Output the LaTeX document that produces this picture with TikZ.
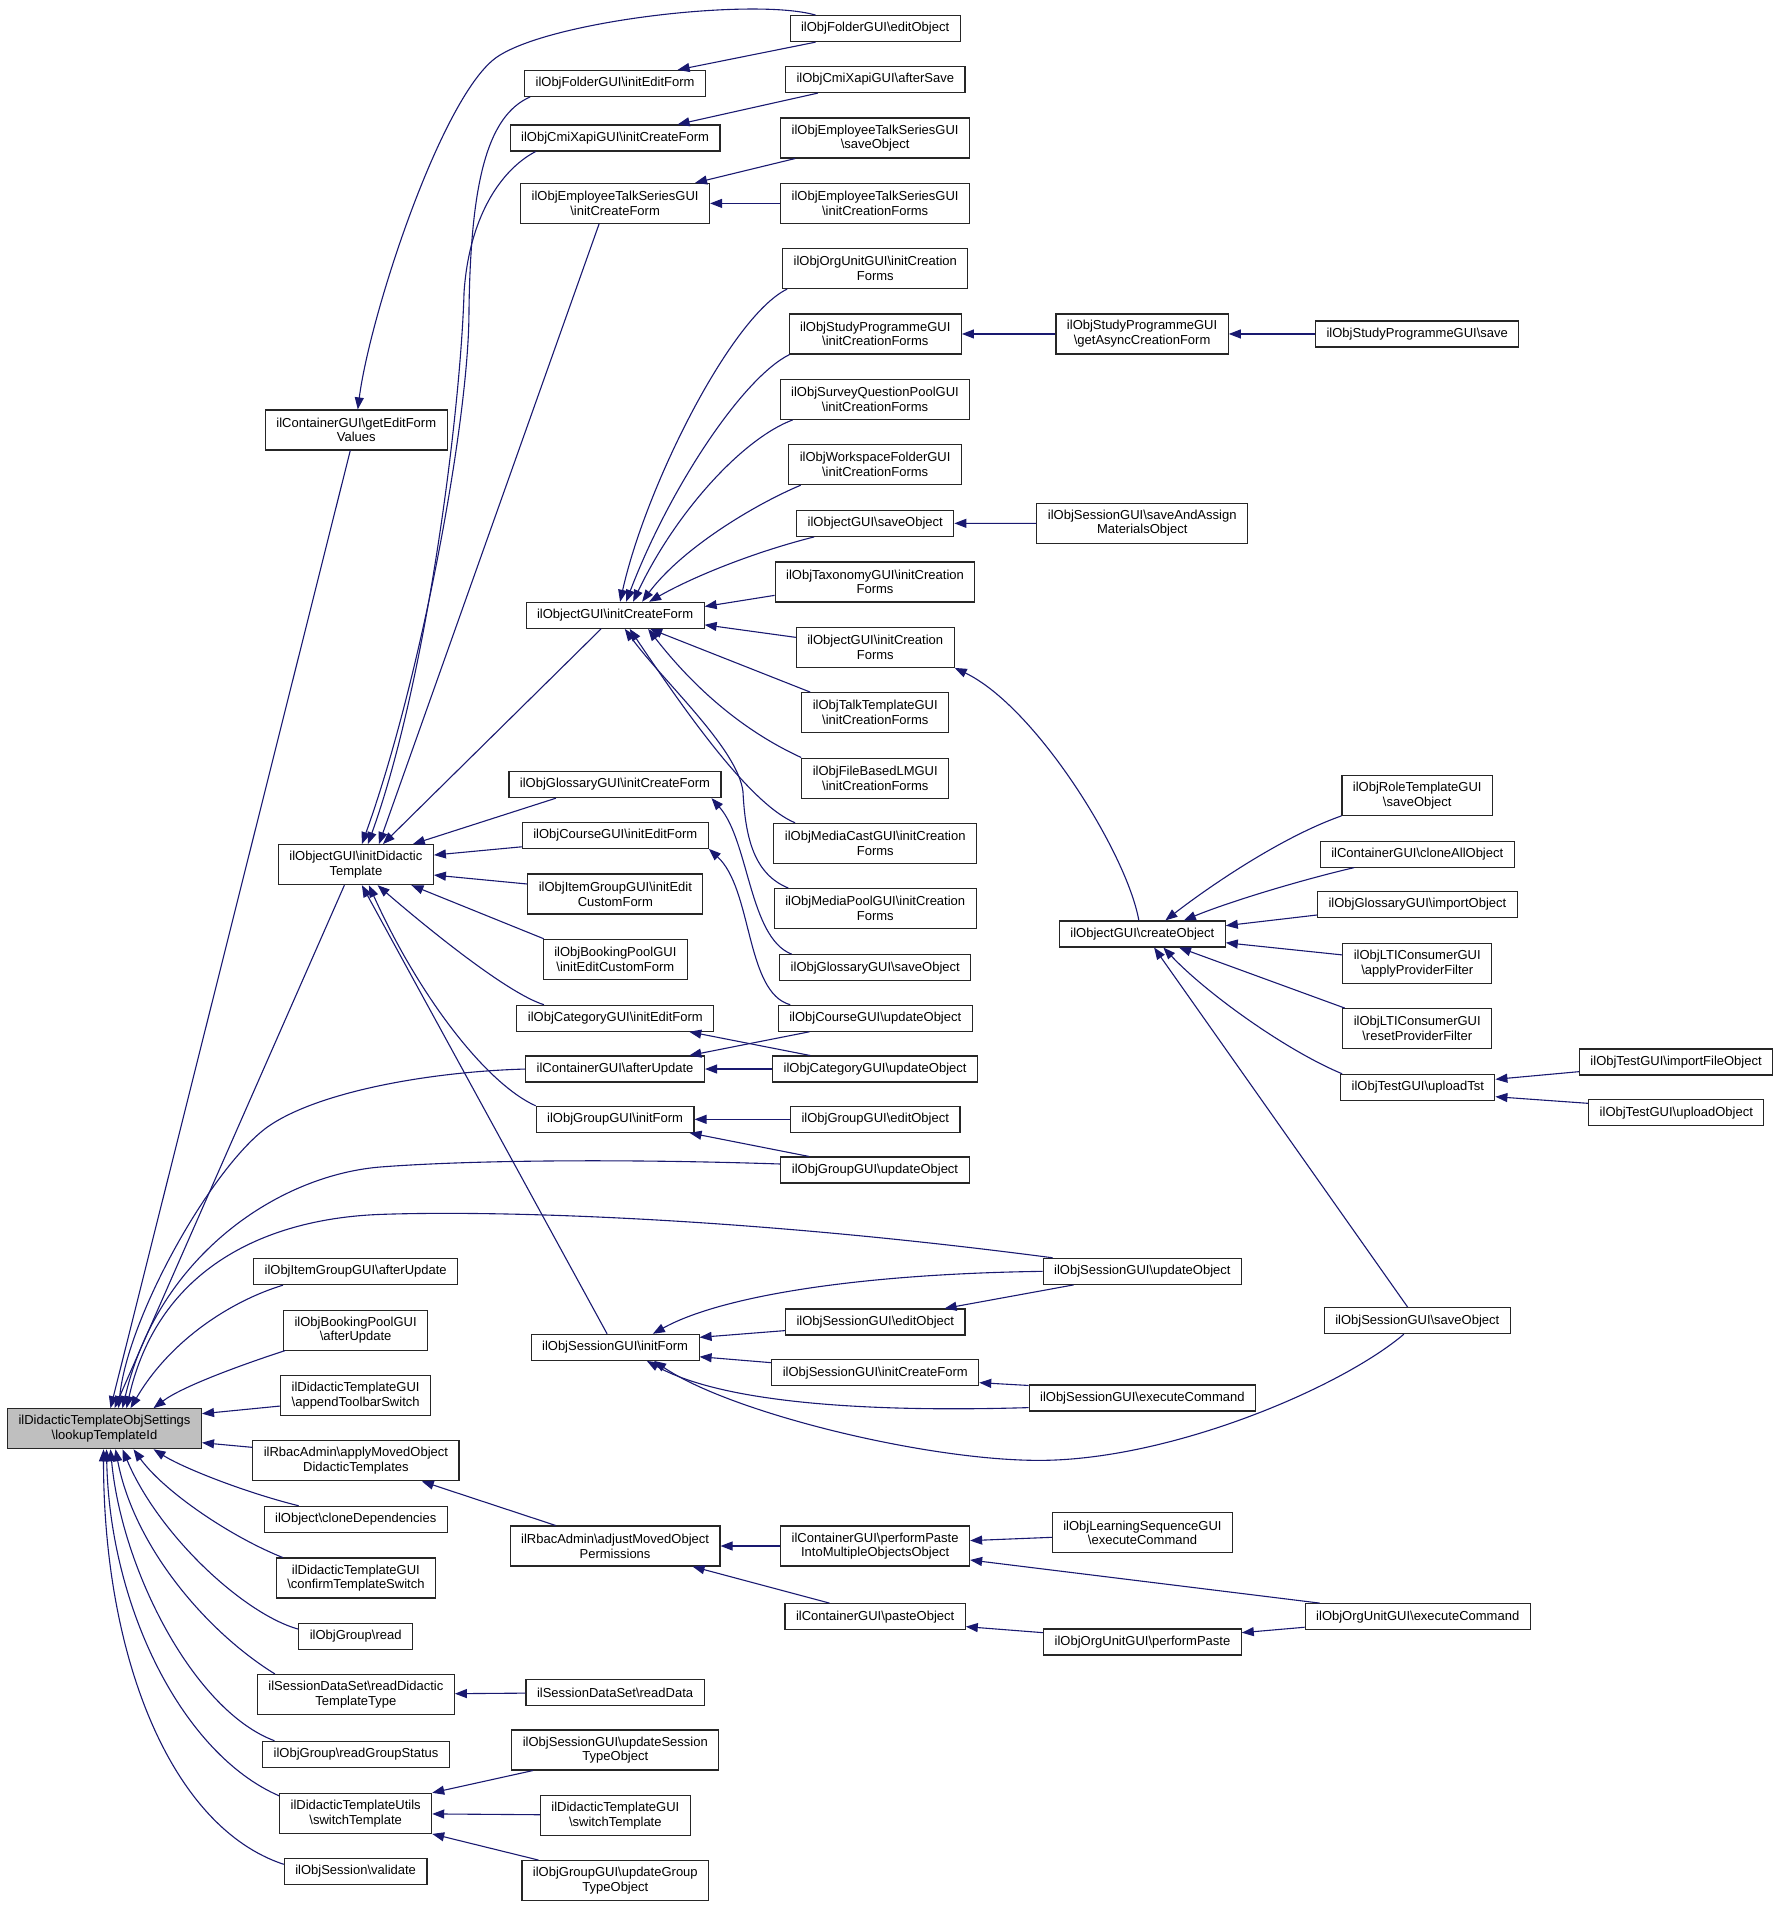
\documentclass[tikz,border=0pt]{standalone}
\usepackage{fontspec}
\setmainfont{Liberation Sans}
\usepackage{tikz}
\usetikzlibrary{arrows.meta}
\definecolor{navyedge}{HTML}{191970}
\definecolor{rootgray}{HTML}{BFBFBF}
\newcommand{\callcolor}{navyedge}
\newcommand{\bsl}{\textbackslash}
\tikzset{
  func/.style={draw=black!85, line width=1.1pt, fill=white, align=center, inner xsep=11pt, inner ysep=0pt, minimum height=26pt, font=\fontsize{13}{14.7}\selectfont},
  functwo/.style={func, minimum height=40pt},
  callarrow/.style={draw=\callcolor, line width=1.1pt, -{Triangle[length=12pt,width=9pt]}}
}

\begin{document}
\begin{tikzpicture}[x=1.218pt, y=-1.218pt]
\useasboundingbox (0,0) rectangle (1463.9,1565.7);
%root
\node[functwo, fill=rootgray] (root) at (85.8,1173) {ilDidacticTemplateObjSettings\\\bsl lookupTemplateId};
%first column
\node[functwo] (editFormValues) at (292.5,353) {ilContainerGUI\bsl getEditForm\\Values};
\node[functwo] (initDidactic) at (292.2,709.9) {ilObjectGUI\bsl initDidactic\\Template};
\node[func] (itemGroupAfter) at (292,1044) {ilObjItemGroupGUI\bsl afterUpdate};
\node[functwo] (bookingAfter) at (292,1092) {ilObjBookingPoolGUI\\\bsl afterUpdate};
\node[functwo] (appendToolbar) at (292,1145.6) {ilDidacticTemplateGUI\\\bsl appendToolbarSwitch};
\node[functwo] (applyMoved) at (292.2,1199.3) {ilRbacAdmin\bsl applyMovedObject\\DidacticTemplates};
\node[func] (cloneDeps) at (292.1,1247.4) {ilObject\bsl cloneDependencies};
\node[functwo] (confirmSwitch) at (292.2,1295.6) {ilDidacticTemplateGUI\\\bsl confirmTemplateSwitch};
\node[func] (groupRead) at (292,1343.7) {ilObjGroup\bsl read};
\node[functwo] (readDidactic) at (292.2,1391.2) {ilSessionDataSet\bsl readDidactic\\TemplateType};
\node[func] (readGroupStatus) at (292.3,1440.3) {ilObjGroup\bsl readGroupStatus};
\node[functwo] (utilsSwitch) at (292,1488.8) {ilDidacticTemplateUtils\\\bsl switchTemplate};
\node[func] (sessionValidate) at (292,1536.4) {ilObjSession\bsl validate};
%second column
\node[func] (folderInitEdit) at (505,68.5) {ilObjFolderGUI\bsl initEditForm};
\node[func] (cmiInitCreate) at (505,113.3) {ilObjCmiXapiGUI\bsl initCreateForm};
\node[functwo] (talkInitCreate) at (505,167) {ilObjEmployeeTalkSeriesGUI\\\bsl initCreateForm};
\node[func] (objInitCreate) at (505,505.2) {ilObjectGUI\bsl initCreateForm};
\node[func] (glossaryInitCreate) at (504.9,644.2) {ilObjGlossaryGUI\bsl initCreateForm};
\node[func] (courseInitEdit) at (505.2,685.8) {ilObjCourseGUI\bsl initEditForm};
\node[functwo] (itemGroupInitEdit) at (505.2,734) {ilObjItemGroupGUI\bsl initEdit\\CustomForm};
\node[functwo] (bookingInitEdit) at (505.2,787.6) {ilObjBookingPoolGUI\\\bsl initEditCustomForm};
\node[func] (categoryInitEdit) at (505.2,836) {ilObjCategoryGUI\bsl initEditForm};
\node[func] (containerAfterUpdate) at (505,877.7) {ilContainerGUI\bsl afterUpdate};
\node[func] (groupInitForm) at (505,919) {ilObjGroupGUI\bsl initForm};
\node[func] (sessionInitForm) at (505,1106.2) {ilObjSessionGUI\bsl initForm};
\node[functwo] (adjustPerms) at (505,1269.3) {ilRbacAdmin\bsl adjustMovedObject\\Permissions};
\node[func] (readData) at (505,1389.5) {ilSessionDataSet\bsl readData};
\node[functwo] (updateSessionType) at (505.2,1436.8) {ilObjSessionGUI\bsl updateSession\\TypeObject};
\node[functwo] (guiSwitch) at (505.2,1490.4) {ilDidacticTemplateGUI\\\bsl switchTemplate};
\node[functwo] (updateGroupType) at (505.2,1544) {ilObjGroupGUI\bsl updateGroup\\TypeObject};
%third column
\node[func] (folderEdit) at (718.5,23.5) {ilObjFolderGUI\bsl editObject};
\node[func] (cmiAfterSave) at (718.6,65.3) {ilObjCmiXapiGUI\bsl afterSave};
\node[functwo] (talkSave) at (718.5,113.3) {ilObjEmployeeTalkSeriesGUI\\\bsl saveObject};
\node[functwo] (talkCreationForms) at (718.5,167) {ilObjEmployeeTalkSeriesGUI\\\bsl initCreationForms};
\node[functwo] (orgUnitForms) at (718.6,220.5) {ilObjOrgUnitGUI\bsl initCreation\\Forms};
\node[functwo] (studyForms) at (718.6,274.2) {ilObjStudyProgrammeGUI\\\bsl initCreationForms};
\node[functwo] (surveyForms) at (718.4,327.9) {ilObjSurveyQuestionPoolGUI\\\bsl initCreationForms};
\node[functwo] (workspaceForms) at (718.5,381.5) {ilObjWorkspaceFolderGUI\\\bsl initCreationForms};
\node[func] (objSave) at (718.6,429.7) {ilObjectGUI\bsl saveObject};
\node[functwo] (taxonomyForms) at (718.4,477.8) {ilObjTaxonomyGUI\bsl initCreation\\Forms};
\node[functwo] (objCreationForms) at (718.6,531.5) {ilObjectGUI\bsl initCreation\\Forms};
\node[functwo] (talkTemplateForms) at (718.6,585.1) {ilObjTalkTemplateGUI\\\bsl initCreationForms};
\node[functwo] (fileLMForms) at (718.6,638.8) {ilObjFileBasedLMGUI\\\bsl initCreationForms};
\node[functwo] (mediaCastForms) at (718.6,692.4) {ilObjMediaCastGUI\bsl initCreation\\Forms};
\node[functwo] (mediaPoolForms) at (718.6,746) {ilObjMediaPoolGUI\bsl initCreation\\Forms};
\node[func] (glossarySave) at (718.6,794.5) {ilObjGlossaryGUI\bsl saveObject};
\node[func] (courseUpdate) at (718.6,836) {ilObjCourseGUI\bsl updateObject};
\node[func] (categoryUpdate) at (718.5,877.7) {ilObjCategoryGUI\bsl updateObject};
\node[func] (groupEdit) at (718.6,919) {ilObjGroupGUI\bsl editObject};
\node[func] (groupUpdate) at (718.4,960.6) {ilObjGroupGUI\bsl updateObject};
\node[func] (sessionEdit) at (718.6,1085.4) {ilObjSessionGUI\bsl editObject};
\node[func] (sessionInitCreate) at (718.6,1127) {ilObjSessionGUI\bsl initCreateForm};
\node[functwo] (performPasteMulti) at (718.5,1269.3) {ilContainerGUI\bsl performPaste\\IntoMultipleObjectsObject};
\node[func] (pasteObject) at (718.5,1327.3) {ilContainerGUI\bsl pasteObject};
%fourth column
\node[functwo] (asyncForm) at (937.7,274.2) {ilObjStudyProgrammeGUI\\\bsl getAsyncCreationForm};
\node[functwo] (saveAssign) at (937.8,429.6) {ilObjSessionGUI\bsl saveAndAssign\\MaterialsObject};
\node[func] (createObject) at (937.9,766.8) {ilObjectGUI\bsl createObject};
\node[func] (sessionUpdate) at (937.9,1043.8) {ilObjSessionGUI\bsl updateObject};
\node[func] (sessionExec) at (937.9,1147.8) {ilObjSessionGUI\bsl executeCommand};
\node[functwo] (lsExec) at (938,1258.4) {ilObjLearningSequenceGUI\\\bsl executeCommand};
\node[func] (orgPerformPaste) at (938,1348.1) {ilObjOrgUnitGUI\bsl performPaste};
%fifth column
\node[func] (studySave) at (1163.6,274.2) {ilObjStudyProgrammeGUI\bsl save};
\node[functwo] (roleSave) at (1163.6,653) {ilObjRoleTemplateGUI\\\bsl saveObject};
\node[func] (cloneAll) at (1163.6,701.2) {ilContainerGUI\bsl cloneAllObject};
\node[func] (glossaryImport) at (1163.7,742.7) {ilObjGlossaryGUI\bsl importObject};
\node[functwo] (ltiApply) at (1163.6,790.9) {ilObjLTIConsumerGUI\\\bsl applyProviderFilter};
\node[functwo] (ltiReset) at (1163.6,844.5) {ilObjLTIConsumerGUI\\\bsl resetProviderFilter};
\node[func] (uploadTst) at (1164,892.7) {ilObjTestGUI\bsl uploadTst};
\node[func] (sessionSave) at (1163.6,1084.3) {ilObjSessionGUI\bsl saveObject};
\node[func] (orgExec) at (1164,1327.3) {ilObjOrgUnitGUI\bsl executeCommand};
%sixth column
\node[func] (importFile) at (1376.1,871.9) {ilObjTestGUI\bsl importFileObject};
\node[func] (uploadObject) at (1376.3,913.5) {ilObjTestGUI\bsl uploadObject};
%callers of lookupTemplateId
\draw[callarrow] ([xshift=-6pt]editFormValues.south) -- ([xshift=6pt]root.north);
\draw[callarrow] ([xshift=-11.5pt]initDidactic.south) -- ([xshift=10pt]root.north);
\draw[callarrow] (containerAfterUpdate.west) .. controls (350,880) and (260,897) .. (220,925) .. controls (175,957) and (105,1080) .. ([xshift=14pt]root.north);
\draw[callarrow] ([yshift=6pt]groupUpdate.west) .. controls (500,951) and (380,953) .. (314,958) .. controls (230,964) and (130,1030) .. ([xshift=18pt]root.north);
\draw[callarrow] ([xshift=10pt]sessionUpdate.north west) .. controls (600,998) and (400,994) .. (314,997) .. controls (220,1000) and (130,1040) .. ([xshift=22pt]root.north);
\draw[callarrow] ([xshift=30pt]itemGroupAfter.south west) .. controls (190,1068) and (140,1100) .. ([xshift=26pt]root.north);
\draw[callarrow] ([xshift=2pt]bookingAfter.south west) .. controls (200,1120) and (150,1138) .. ([xshift=49pt]root.north);
\draw[callarrow] ([yshift=-10.7pt]appendToolbar.west) -- ([yshift=15pt]root.east);
\draw[callarrow] ([yshift=13.4pt]applyMoved.west) -- ([yshift=-14pt]root.east);
\draw[callarrow] ([xshift=35pt]cloneDeps.north west) .. controls (200,1225) and (150,1205) .. ([xshift=49pt]root.south);
\draw[callarrow] ([xshift=7pt]confirmSwitch.north west) .. controls (190,1262) and (135,1225) .. ([xshift=29pt]root.south);
\draw[callarrow] ([yshift=7.5pt]groupRead.west) .. controls (200,1325) and (130,1260) .. ([xshift=18pt]root.south);
\draw[callarrow] ([xshift=18pt]readDidactic.north west) .. controls (170,1340) and (110,1270) .. ([xshift=11pt]root.south);
\draw[callarrow] ([xshift=12.4pt]readGroupStatus.north west) .. controls (160,1405) and (100,1290) .. ([xshift=6pt]root.south);
\draw[callarrow] ([yshift=-3pt]utilsSwitch.north west) .. controls (150,1440) and (90,1320) .. ([xshift=2pt]root.south);
\draw[callarrow] ([yshift=7pt]sessionValidate.west) .. controls (140,1500) and (85,1360) .. ([xshift=-1pt]root.south);
%getEditFormValues
\draw[callarrow] ([xshift=26pt]folderEdit.north west) .. controls (620,-2) and (453.5,16.5) .. (408.5,46.5) .. controls (363.5,76.5) and (304,257) .. ([xshift=1.5pt]editFormValues.north);
%initDidacticTemplate
\draw[callarrow] ([xshift=6pt]folderInitEdit.south west) .. controls (400,95) and (386,150) .. (385,260) .. controls (384,350) and (345,560) .. ([xshift=6pt]initDidactic.north);
\draw[callarrow] ([xshift=26pt]cmiInitCreate.south west) .. controls (410,140) and (385,180) .. (381,240) .. controls (378,340) and (350,560) .. ([xshift=12pt]initDidactic.north);
\draw[callarrow] ([xshift=-16pt]talkInitCreate.south) -- ([xshift=23pt]initDidactic.north);
\draw[callarrow] ([xshift=-14pt]objInitCreate.south) -- ([xshift=27pt]initDidactic.north);
\draw[callarrow] ([xshift=47.5pt]glossaryInitCreate.south west) -- ([xshift=57pt]initDidactic.north);
\draw[callarrow] ([yshift=-11.5pt]courseInitEdit.west) -- ([yshift=9.6pt]initDidactic.east);
\draw[callarrow] ([yshift=10pt]itemGroupInitEdit.west) -- ([yshift=-10.4pt]initDidactic.east);
\draw[callarrow] ([xshift=1pt]bookingInitEdit.north west) -- ([xshift=55.5pt]initDidactic.south);
\draw[callarrow] ([xshift=27.5pt]categoryInitEdit.north west) .. controls (415,815) and (345,757) .. ([xshift=21.7pt]initDidactic.south);
\draw[callarrow] (groupInitForm.north west) .. controls (400,890) and (345,820) .. ([xshift=13pt]initDidactic.south);
\draw[callarrow] ([xshift=-8pt]sessionInitForm.north) -- ([xshift=6pt]initDidactic.south);
%ilObjectGUI initCreateForm
\draw[callarrow] ([xshift=5pt]orgUnitForms.south west) .. controls (600,260) and (530,400) .. ([xshift=5pt]objInitCreate.north);
\draw[callarrow] ([xshift=1pt]studyForms.south west) .. controls (610,310) and (550,400) .. ([xshift=11pt]objInitCreate.north);
\draw[callarrow] ([xshift=13pt]surveyForms.south west) .. controls (610,360) and (555,420) .. ([xshift=18pt]objInitCreate.north);
\draw[callarrow] ([xshift=12.5pt]workspaceForms.south west) .. controls (620,414) and (560,450) .. ([xshift=27pt]objInitCreate.north);
\draw[callarrow] ([xshift=18pt]objSave.south west) .. controls (620,453) and (570,473) .. ([xshift=34pt]objInitCreate.north);
\draw[callarrow] ([yshift=-13.4pt]taxonomyForms.west) -- ([yshift=8.8pt]objInitCreate.east);
\draw[callarrow] ([yshift=10pt]objCreationForms.west) -- ([yshift=-9.5pt]objInitCreate.east);
\draw[callarrow] ([xshift=9pt]talkTemplateForms.north west) -- ([xshift=35pt]objInitCreate.south);
\draw[callarrow] (fileLMForms.north west) .. controls (610,600) and (570,565) .. ([xshift=33pt]objInitCreate.south);
\draw[callarrow] ([xshift=21.7pt]mediaCastForms.north west) .. controls (615,660) and (560,580) .. ([xshift=14.6pt]objInitCreate.south);
\draw[callarrow] ([xshift=14.6pt]mediaPoolForms.north west) .. controls (620,718) and (612,690) .. (610,650) .. controls (606,615) and (545,560) .. ([xshift=9.7pt]objInitCreate.south);
%top right
\draw[callarrow] ([xshift=26pt]folderEdit.south west) -- ([xshift=62.5pt]folderInitEdit.north);
\draw[callarrow] ([xshift=33pt]cmiAfterSave.south west) -- ([xshift=62.5pt]cmiInitCreate.north);
\draw[callarrow] ([xshift=15pt]talkSave.south west) -- ([xshift=-15pt]talkInitCreate.north east);
\draw[callarrow] (talkCreationForms) -- (talkInitCreate);
\draw[callarrow] (asyncForm) -- (studyForms);
\draw[callarrow] (studySave) -- (asyncForm);
\draw[callarrow] (saveAssign) -- (objSave);
%createObject
\draw[callarrow] ([xshift=-3.5pt]createObject.north) .. controls (925,700) and (850,580) .. (objCreationForms.south east);
\draw[callarrow] (roleSave.south west) .. controls (1050,688) and (990,730) .. ([xshift=23pt]createObject.north);
\draw[callarrow] ([xshift=34.5pt]cloneAll.south west) .. controls (1070,722) and (1010,740) .. ([xshift=41.5pt]createObject.north);
\draw[callarrow] ([yshift=-10.4pt]glossaryImport.west) -- ([yshift=8.3pt]createObject.east);
\draw[callarrow] ([yshift=8.4pt]ltiApply.west) -- ([yshift=-8.8pt]createObject.east);
\draw[callarrow] ([xshift=2.4pt]ltiReset.north west) -- ([xshift=36.7pt]createObject.south);
\draw[callarrow] ([xshift=2pt]uploadTst.north west) .. controls (1055,862) and (990,815) .. ([xshift=21pt]createObject.south);
\draw[callarrow] ([xshift=-9.6pt]sessionSave.north) -- ([xshift=11.7pt]createObject.south);
\draw[callarrow] ([yshift=-9.7pt]importFile.west) -- ([yshift=8pt]uploadTst.east);
\draw[callarrow] ([yshift=9.3pt]uploadObject.west) -- ([yshift=-9.4pt]uploadTst.east);
%update and edit forms
\draw[callarrow] ([xshift=12.5pt]glossarySave.north west) .. controls (615,770) and (615,690) .. ([xshift=-10pt]glossaryInitCreate.south east);
\draw[callarrow] ([xshift=12.5pt]courseUpdate.north west) .. controls (612,815) and (618,730) .. (courseInitEdit.south east);
\draw[callarrow] ([xshift=38pt]categoryUpdate.north west) -- ([xshift=-25pt]categoryInitEdit.south east);
\draw[callarrow] ([xshift=31.7pt]courseUpdate.south west) -- ([xshift=-15.7pt]containerAfterUpdate.north east);
\draw[callarrow] (categoryUpdate) -- (containerAfterUpdate);
\draw[callarrow] (groupEdit) -- (groupInitForm);
\draw[callarrow] ([xshift=28.7pt]groupUpdate.north west) -- ([xshift=-5pt]groupInitForm.south east);
%session
\draw[callarrow] (sessionUpdate.west) .. controls (700,1046) and (590,1065) .. ([xshift=37.8pt]sessionInitForm.north);
\draw[callarrow] ([xshift=31pt]sessionUpdate.south west) -- ([xshift=-21pt]sessionEdit.north east);
\draw[callarrow] ([yshift=-8.6pt]sessionEdit.west) -- ([yshift=10pt]sessionInitForm.east);
\draw[callarrow] ([yshift=10pt]sessionInitCreate.west) -- ([yshift=-9.4pt]sessionInitForm.east);
\draw[callarrow] ([yshift=-9.6pt]sessionExec.west) .. controls (700,1160) and (590,1150) .. ([xshift=31.7pt]sessionInitForm.south);
\draw[callarrow] ([yshift=-1pt]sessionExec.north west) -- ([yshift=-10pt]sessionInitCreate.east);
\draw[callarrow] ([xshift=-13.4pt]sessionSave.south) .. controls (1100,1140) and (960,1199) .. (853,1199) .. controls (760,1199) and (600,1160) .. ([xshift=39pt]sessionInitForm.south);
%rbac and paste
\draw[callarrow] ([xshift=46pt]adjustPerms.north west) -- ([xshift=-37.8pt]applyMoved.south east);
\draw[callarrow] (performPasteMulti) -- (adjustPerms);
\draw[callarrow] ([xshift=45pt]pasteObject.north west) -- ([xshift=-28pt]adjustPerms.south east);
\draw[callarrow] ([yshift=-4.6pt]lsExec.west) -- ([yshift=5.4pt]performPasteMulti.east);
\draw[callarrow] ([xshift=15pt]orgExec.north west) -- ([yshift=-14pt]performPasteMulti.east);
\draw[callarrow] ([yshift=9.3pt]orgPerformPaste.west) -- ([yshift=-10pt]pasteObject.east);
\draw[callarrow] ([yshift=-10.6pt]orgExec.west) -- ([yshift=9.3pt]orgPerformPaste.east);
%data set and templates
\draw[callarrow] (readData) -- (readDidactic);
\draw[callarrow] ([xshift=21.6pt]updateSessionType.south west) -- (utilsSwitch.north east);
\draw[callarrow] (guiSwitch) -- (utilsSwitch);
\draw[callarrow] ([xshift=17pt]updateGroupType.north west) -- (utilsSwitch.south east);
\end{tikzpicture}
\end{document}
